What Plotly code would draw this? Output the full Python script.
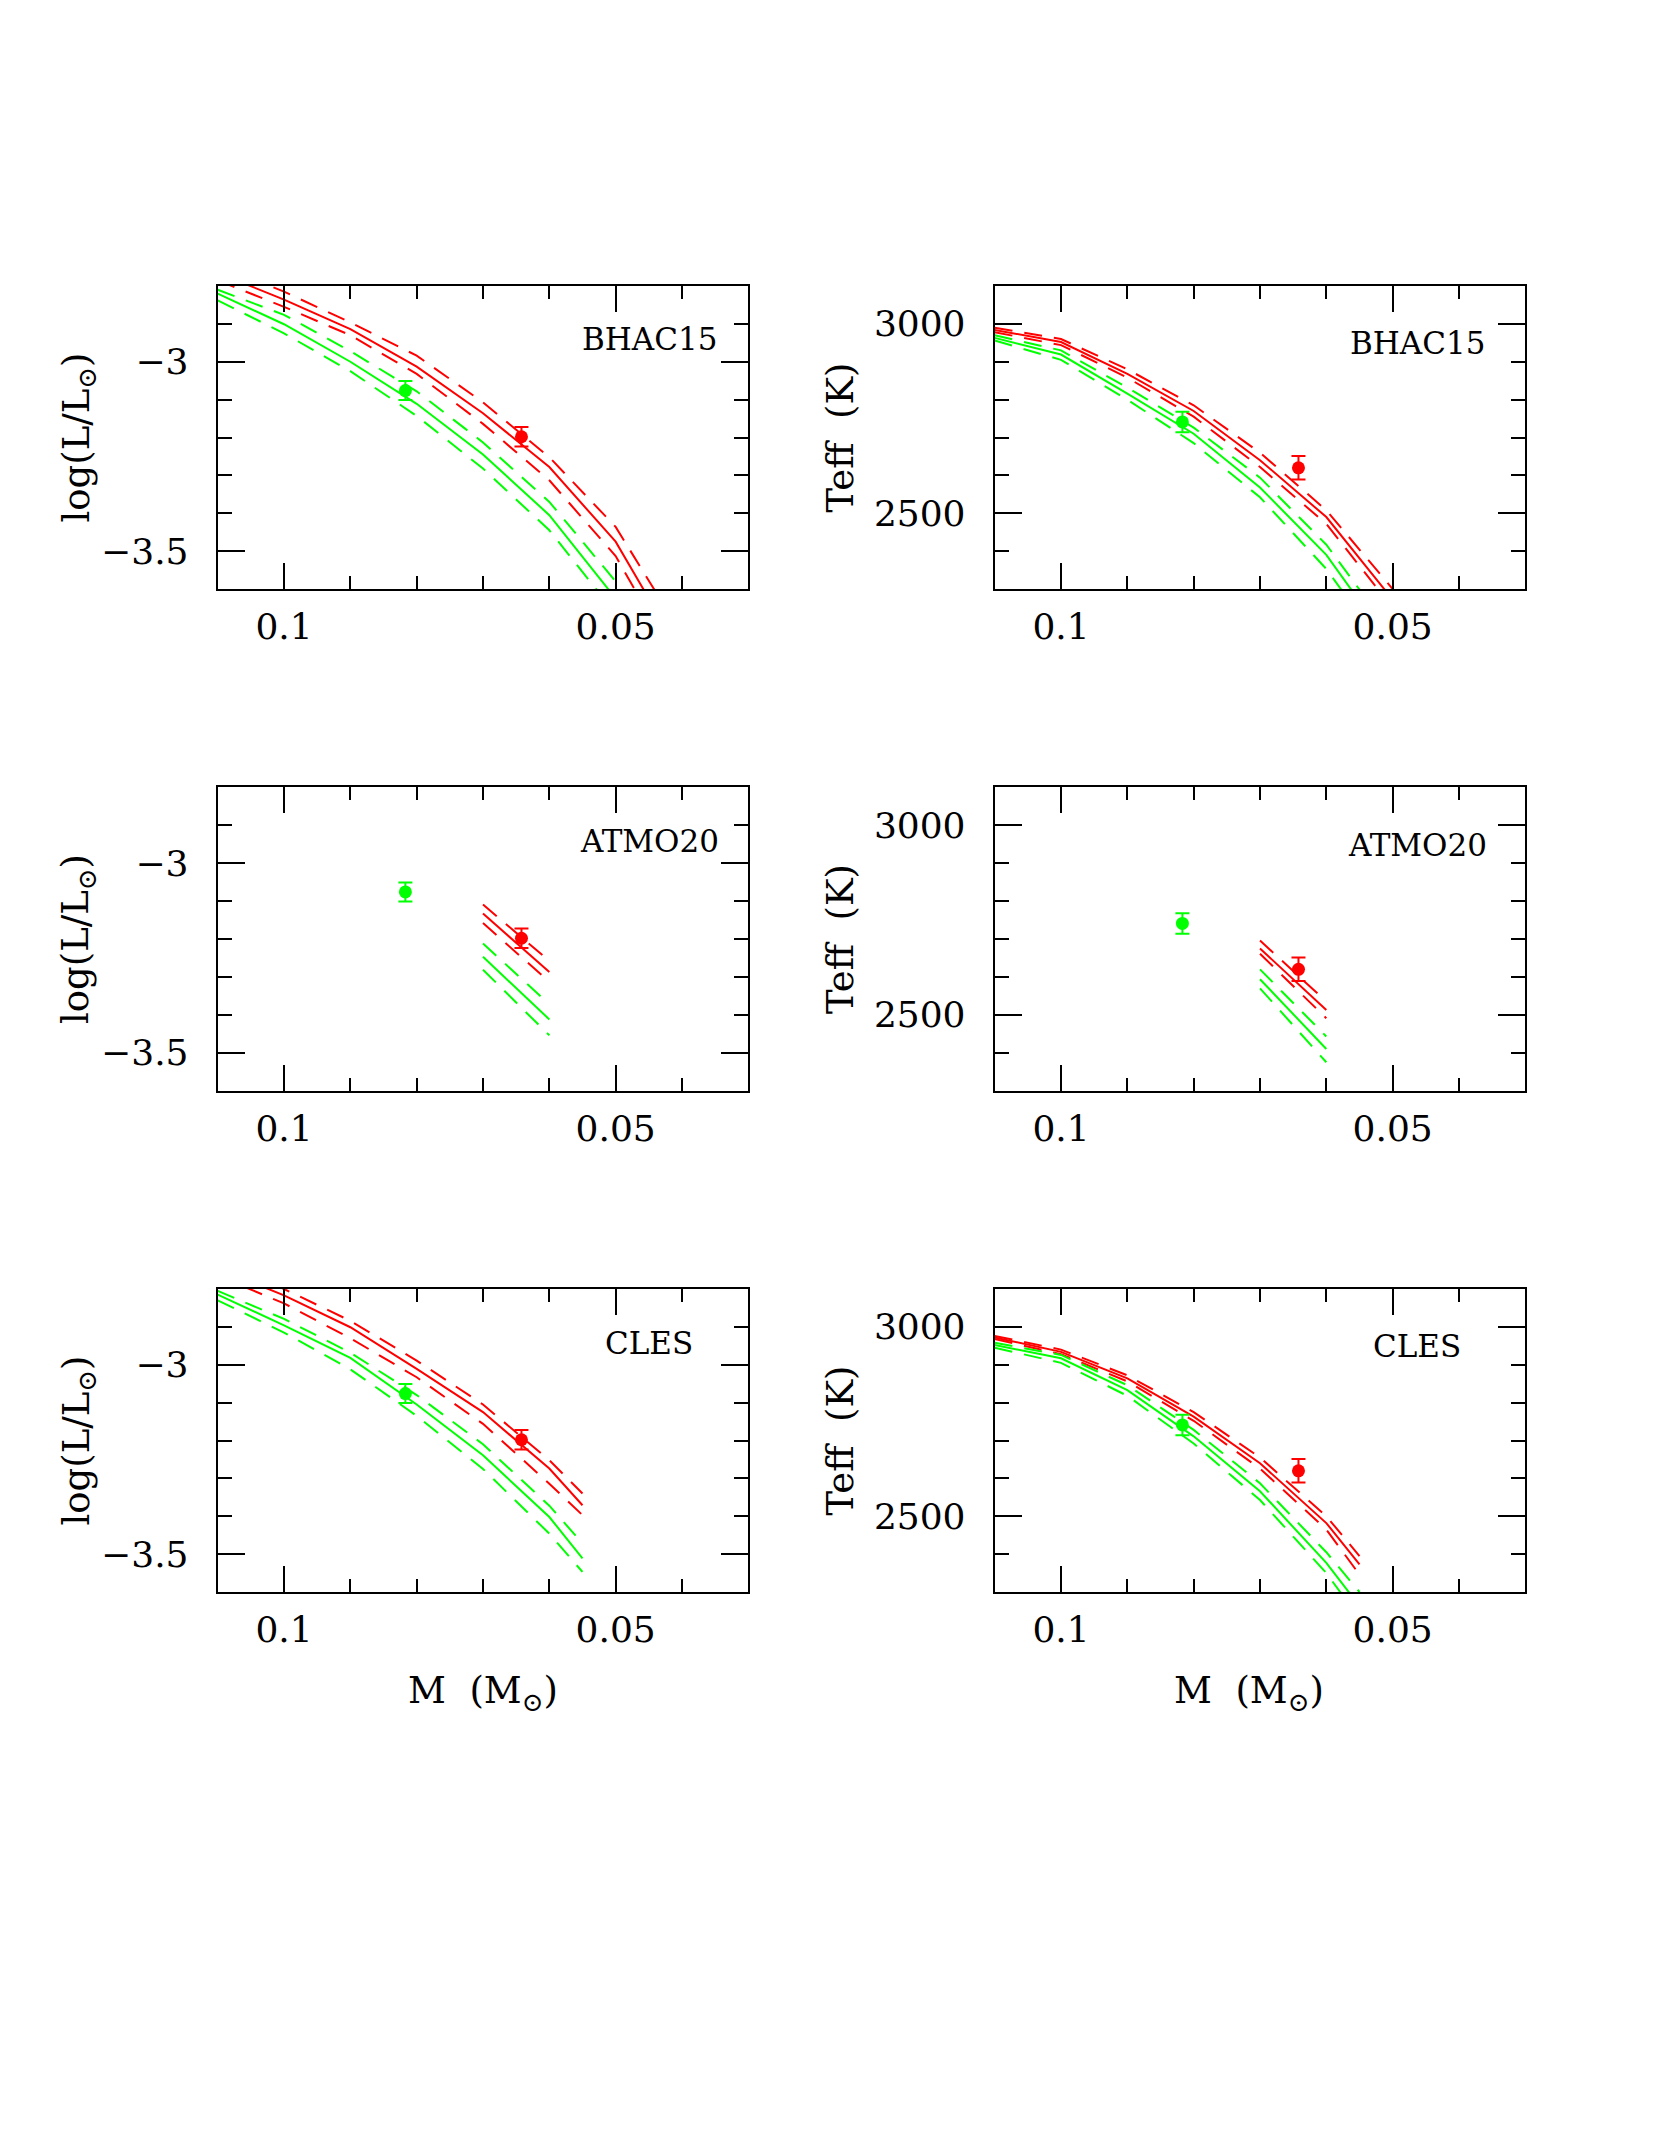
import plotly.graph_objects as go

# ---------------- data ----------------
mass_grid = [0.11, 0.10, 0.09, 0.08, 0.07, 0.06, 0.05, 0.04]
mass_atmo = [0.07, 0.06]
mass_cles = [0.11, 0.10, 0.09, 0.08, 0.07, 0.06, 0.055]

# BHAC15 log(L/Lsun)
bhac_logl_red = [-2.765, -2.836, -2.914, -3.013, -3.136, -3.278, -3.475, -3.775]
bhac_logl_red_up = [-2.745, -2.815, -2.896, -2.984, -3.107, -3.252, -3.436, -3.720]
bhac_logl_red_lo = [-2.785, -2.855, -2.930, -3.032, -3.164, -3.313, -3.513, -3.820]
bhac_logl_grn = [-2.820, -2.901, -3.000, -3.111, -3.245, -3.405, -3.625, -3.900]
bhac_logl_grn_up = [-2.810, -2.876, -2.972, -3.078, -3.213, -3.370, -3.580, -3.850]
bhac_logl_grn_lo = [-2.838, -2.925, -3.025, -3.143, -3.282, -3.445, -3.665, -3.950]

# BHAC15 Teff
bhac_teff_red = [2984, 2952, 2868, 2770, 2640, 2490, 2272, 2000]
bhac_teff_red_up = [2990, 2960, 2880, 2785, 2660, 2508, 2300, 2030]
bhac_teff_red_lo = [2978, 2944, 2858, 2755, 2622, 2472, 2250, 1980]
bhac_teff_grn = [2963, 2919, 2816, 2710, 2568, 2390, 2146, 1900]
bhac_teff_grn_up = [2970, 2930, 2832, 2726, 2594, 2417, 2180, 1930]
bhac_teff_grn_lo = [2956, 2905, 2800, 2685, 2542, 2353, 2110, 1870]

# ATMO20
atmo_logl_red = [-3.133, -3.287]
atmo_logl_red_up = [-3.109, -3.258]
atmo_logl_red_lo = [-3.158, -3.313]
atmo_logl_grn = [-3.247, -3.412]
atmo_logl_grn_up = [-3.212, -3.372]
atmo_logl_grn_lo = [-3.281, -3.454]
atmo_teff_red = [2675, 2513]
atmo_teff_red_up = [2696, 2535]
atmo_teff_red_lo = [2661, 2491]
atmo_teff_grn = [2594, 2410]
atmo_teff_grn_up = [2620, 2443]
atmo_teff_grn_lo = [2570, 2375]

# CLES
cles_logl_red = [-2.745, -2.817, -2.901, -3.011, -3.125, -3.274, -3.371]
cles_logl_red_up = [-2.725, -2.800, -2.884, -2.989, -3.105, -3.252, -3.340]
cles_logl_red_lo = [-2.765, -2.838, -2.930, -3.033, -3.156, -3.314, -3.397]
cles_logl_grn = [-2.815, -2.896, -2.982, -3.105, -3.239, -3.402, -3.511]
cles_logl_grn_up = [-2.805, -2.879, -2.968, -3.080, -3.210, -3.372, -3.472]
cles_logl_grn_lo = [-2.830, -2.915, -3.012, -3.135, -3.275, -3.446, -3.547]
cles_teff_red = [2972, 2934, 2864, 2763, 2640, 2482, 2373]
cles_teff_red_up = [2976, 2940, 2872, 2775, 2655, 2500, 2395]
cles_teff_red_lo = [2968, 2928, 2856, 2752, 2626, 2465, 2346]
cles_teff_grn = [2952, 2917, 2833, 2711, 2566, 2377, 2263]
cles_teff_grn_up = [2958, 2926, 2846, 2728, 2587, 2405, 2300]
cles_teff_grn_lo = [2945, 2905, 2818, 2692, 2543, 2350, 2230]

# Observed components
obs_mass = [0.0817, 0.0642]
obs_logl = [-3.076, -3.198]
obs_logl_err = [0.025, 0.026]
obs_teff = [2741, 2620]
obs_teff_err = [27, 31]
obs_colors = ["#00ff00", "#ff0000"]

model_names = ["BHAC15", "ATMO20", "CLES"]
x_tickvals = [0.1, 0.05]
x_ticktext = ["0.1", "0.05"]
x_minor = [0.09, 0.08, 0.07, 0.06, 0.04]
logl_tickvals = [-3.0, -3.5]
logl_ticktext = ["\u22123", "\u22123.5"]
logl_minor = [-2.9, -3.1, -3.2, -3.3, -3.4]
teff_tickvals = [3000, 2500]
teff_ticktext = ["3000", "2500"]
teff_minor = [2400, 2600, 2700, 2800, 2900]

# ---------------- figure ----------------
OFF = 8  # page body margin
W, H = 1661 - 2 * OFF, 2149 - 2 * OFF
RED, GRN = "#ff0000", "#00ff00"
FONT = "DejaVu Serif"
DASH = "18px,12px"

col_px = [(217.7, 748.3), (994.7, 1525.3)]
row_px = [(286.0, 589.0), (787.3, 1090.7), (1289.0, 1592.0)]


def px_x(v):
    return (v - OFF) / W


def px_y(v):
    return 1 - (v - OFF) / H


fig = go.Figure()

panels = [
    (mass_grid, [bhac_logl_red, bhac_logl_red_up, bhac_logl_red_lo, bhac_logl_grn, bhac_logl_grn_up, bhac_logl_grn_lo],
     mass_grid, [bhac_teff_red, bhac_teff_red_up, bhac_teff_red_lo, bhac_teff_grn, bhac_teff_grn_up, bhac_teff_grn_lo]),
    (mass_atmo, [atmo_logl_red, atmo_logl_red_up, atmo_logl_red_lo, atmo_logl_grn, atmo_logl_grn_up, atmo_logl_grn_lo],
     mass_atmo, [atmo_teff_red, atmo_teff_red_up, atmo_teff_red_lo, atmo_teff_grn, atmo_teff_grn_up, atmo_teff_grn_lo]),
    (mass_cles, [cles_logl_red, cles_logl_red_up, cles_logl_red_lo, cles_logl_grn, cles_logl_grn_up, cles_logl_grn_lo],
     mass_cles, [cles_teff_red, cles_teff_red_up, cles_teff_red_lo, cles_teff_grn, cles_teff_grn_up, cles_teff_grn_lo]),
]

styles = [(RED, "solid"), (RED, DASH), (RED, DASH), (GRN, "solid"), (GRN, DASH), (GRN, DASH)]

annotations = []
label_pos = {0: [(649, 339), (1417, 343)], 1: [(649, 841), (1417, 845)], 2: [(649, 1343), (1417, 1346)]}

for r, (mL, curvesL, mT, curvesT) in enumerate(panels):
    for c in range(2):
        idx = r * 2 + c + 1
        xa = "x" if idx == 1 else f"x{idx}"
        ya = "y" if idx == 1 else f"y{idx}"
        masses = mL if c == 0 else mT
        curves = curvesL if c == 0 else curvesT
        for (col, dash), yv in zip(styles, curves):
            fig.add_trace(go.Scatter(x=masses, y=yv, mode="lines", xaxis=xa, yaxis=ya,
                                     line=dict(color=col, width=2, dash=dash),
                                     showlegend=False, hoverinfo="skip"))
        yobs = obs_logl if c == 0 else obs_teff
        yerr = obs_logl_err if c == 0 else obs_teff_err
        for k in range(2):
            fig.add_trace(go.Scatter(x=[obs_mass[k]], y=[yobs[k]], mode="markers", xaxis=xa, yaxis=ya,
                                     marker=dict(color=obs_colors[k], size=13),
                                     error_y=dict(type="data", array=[yerr[k]], color=obs_colors[k],
                                                  thickness=2, width=7),
                                     showlegend=False))
        x0, x1 = col_px[c]
        y0, y1 = row_px[r]
        xdom = [px_x(x0), px_x(x1)]
        ydom = [px_y(y1), px_y(y0)]
        xkey = "xaxis" if idx == 1 else f"xaxis{idx}"
        ykey = "yaxis" if idx == 1 else f"yaxis{idx}"
        fig.layout[xkey] = dict(
            domain=xdom, anchor=ya, range=[0.11, 0.03], tickvals=x_tickvals, ticktext=x_ticktext,
            ticks="inside", ticklen=26, tickwidth=2, tickcolor="black",
            minor=dict(tickvals=x_minor, ticks="inside", ticklen=13, tickwidth=2, tickcolor="black", showgrid=False),
            showline=True, linecolor="black", linewidth=2, mirror="ticks",
            showgrid=False, zeroline=False, ticklabelstandoff=5,
            tickfont=dict(family=FONT, size=36, color="black"))
        if c == 0:
            yr, tv, tt, mn = [-3.6, -2.8], logl_tickvals, logl_ticktext, logl_minor
        else:
            yr, tv, tt, mn = [2300, 3100], teff_tickvals, teff_ticktext, teff_minor
        fig.layout[ykey] = dict(
            domain=ydom, anchor=xa, range=yr, tickvals=tv, ticktext=tt,
            ticks="inside", ticklen=27, tickwidth=2, tickcolor="black",
            minor=dict(tickvals=mn, ticks="inside", ticklen=14, tickwidth=2, tickcolor="black", showgrid=False),
            showline=True, linecolor="black", linewidth=2, mirror="ticks",
            showgrid=False, zeroline=False, ticklabelstandoff=20,
            tickfont=dict(family=FONT, size=36, color="black"))
        # model label
        lx, ly = label_pos[r][c]
        annotations.append(dict(text=model_names[r], x=px_x(lx), y=px_y(ly), xref="paper", yref="paper",
                                showarrow=False, xanchor="center", yanchor="middle",
                                font=dict(family=FONT, size=31, color="black")))
        # y titles
        ytitle = "log(L/L<sub>\u2299</sub>)" if c == 0 else "Teff\u00a0\u00a0(K)"
        tx = 78 if c == 0 else 840
        annotations.append(dict(text=ytitle, x=px_x(tx), y=px_y((y0 + y1) / 2), xref="paper", yref="paper",
                                showarrow=False, textangle=-90, xanchor="center", yanchor="middle",
                                font=dict(family=FONT, size=37, color="black")))

# x titles
for cx in (483, 1249):
    annotations.append(dict(text="M\u00a0\u00a0(M<sub>\u2299</sub>)", x=px_x(cx), y=px_y(1693),
                            xref="paper", yref="paper", showarrow=False, xanchor="center", yanchor="middle",
                            font=dict(family=FONT, size=37, color="black")))

fig.update_layout(width=W, height=H, margin=dict(l=0, r=0, t=0, b=0),
                  paper_bgcolor="white", plot_bgcolor="white", annotations=annotations,
                  showlegend=False)

fig.write_html("out.html")
